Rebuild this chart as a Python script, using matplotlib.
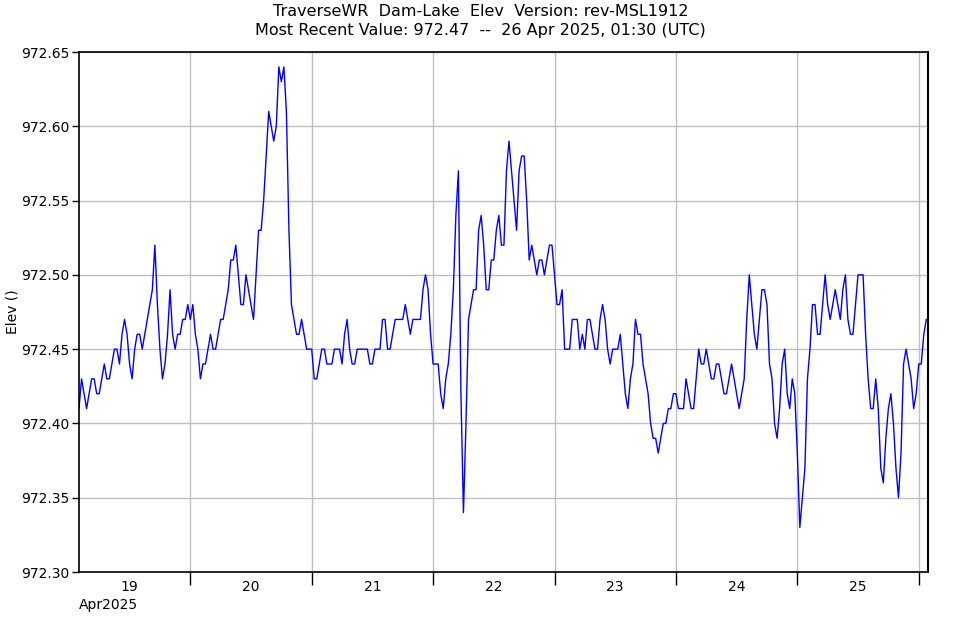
import matplotlib
matplotlib.use("Agg")
import matplotlib.pyplot as plt
import matplotlib.dates as mdates
import matplotlib.ticker as mticker
import numpy as np
import pandas as pd

# ---- data (half-hourly elevation, offsets added to 972.00) ----
start_time = "2025-04-19 02:00"
step = "30min"
apr19 = [0.41, 0.43, 0.42, 0.41, 0.42, 0.43, 0.43, 0.42, 0.42, 0.43, 0.44, 0.43,
         0.43, 0.44, 0.45, 0.45, 0.44, 0.46, 0.47, 0.46, 0.44, 0.43, 0.45, 0.46,
         0.46, 0.45, 0.46, 0.47, 0.48, 0.49, 0.52, 0.48, 0.45, 0.43, 0.44, 0.46,
         0.49, 0.46, 0.45, 0.46, 0.46, 0.47, 0.47, 0.48]
apr20 = [0.47, 0.48, 0.46, 0.45, 0.43, 0.44, 0.44, 0.45, 0.46, 0.45, 0.45, 0.46,
         0.47, 0.47, 0.48, 0.49, 0.51, 0.51, 0.52, 0.50, 0.48, 0.48, 0.50, 0.49,
         0.48, 0.47, 0.50, 0.53, 0.53, 0.55, 0.58, 0.61, 0.60, 0.59, 0.60, 0.64,
         0.63, 0.64, 0.61, 0.53, 0.48, 0.47, 0.46, 0.46, 0.47, 0.46, 0.45, 0.45]
apr21 = [0.45, 0.43, 0.43, 0.44, 0.45, 0.45, 0.44, 0.44, 0.44, 0.45, 0.45, 0.45,
         0.44, 0.46, 0.47, 0.45, 0.44, 0.44, 0.45, 0.45, 0.45, 0.45, 0.45, 0.44,
         0.44, 0.45, 0.45, 0.45, 0.47, 0.47, 0.45, 0.45, 0.46, 0.47, 0.47, 0.47,
         0.47, 0.48, 0.47, 0.46, 0.47, 0.47, 0.47, 0.47, 0.49, 0.50, 0.49, 0.46]
apr22 = [0.44, 0.44, 0.44, 0.42, 0.41, 0.43, 0.44, 0.46, 0.49, 0.54, 0.57, 0.42,
         0.34, 0.40, 0.47, 0.48, 0.49, 0.49, 0.53, 0.54, 0.52, 0.49, 0.49, 0.51,
         0.51, 0.53, 0.54, 0.52, 0.52, 0.57, 0.59, 0.57, 0.55, 0.53, 0.57, 0.58,
         0.58, 0.55, 0.51, 0.52, 0.51, 0.50, 0.51, 0.51, 0.50, 0.51, 0.52, 0.52]
apr23 = [0.50, 0.48, 0.48, 0.49, 0.45, 0.45, 0.45, 0.47, 0.47, 0.47, 0.45, 0.46,
         0.45, 0.47, 0.47, 0.46, 0.45, 0.45, 0.47, 0.48, 0.47, 0.45, 0.44, 0.45,
         0.45, 0.45, 0.46, 0.44, 0.42, 0.41, 0.43, 0.44, 0.47, 0.46, 0.46, 0.44,
         0.43, 0.42, 0.40, 0.39, 0.39, 0.38, 0.39, 0.40, 0.40, 0.41, 0.41, 0.42]
apr24 = [0.42, 0.41, 0.41, 0.41, 0.43, 0.42, 0.41, 0.41, 0.43, 0.45, 0.44, 0.44,
         0.45, 0.44, 0.43, 0.43, 0.44, 0.44, 0.43, 0.42, 0.42, 0.43, 0.44, 0.43,
         0.42, 0.41, 0.42, 0.43, 0.47, 0.50, 0.48, 0.46, 0.45, 0.47, 0.49, 0.49,
         0.48, 0.44, 0.43, 0.40, 0.39, 0.41, 0.44, 0.45, 0.42, 0.41, 0.43, 0.42]
apr25 = [0.38, 0.33, 0.35, 0.37, 0.43, 0.45, 0.48, 0.48, 0.46, 0.46, 0.48, 0.50,
         0.48, 0.47, 0.48, 0.49, 0.48, 0.47, 0.49, 0.50, 0.47, 0.46, 0.46, 0.48,
         0.50, 0.50, 0.50, 0.46, 0.43, 0.41, 0.41, 0.43, 0.41, 0.37, 0.36, 0.39,
         0.41, 0.42, 0.40, 0.37, 0.35, 0.38, 0.44, 0.45, 0.44, 0.43, 0.41, 0.42,
         0.44, 0.44, 0.46, 0.47]
base = 972.0

elev = base + np.array(apr19 + apr20 + apr21 + apr22 + apr23 + apr24 + apr25)
times = pd.date_range(start_time, periods=len(elev), freq=step)

yticks = [972.30, 972.35, 972.40, 972.45, 972.50, 972.55, 972.60, 972.65]
title1 = "TraverseWR  Dam-Lake  Elev  Version: rev-MSL1912"
title2 = "Most Recent Value: 972.47  --  26 Apr 2025, 01:30 (UTC)"

# ---- figure ----
W, H = 961, 620
fig = plt.figure(figsize=(W / 100, H / 100), dpi=100)
ax = fig.add_axes([79 / W, 1 - 572 / H, (928 - 79) / W, (572 - 52) / H])

ax.plot(times, elev, color="#0000ff", linewidth=1.0)

ax.set_xlim(pd.Timestamp("2025-04-19 02:00"), pd.Timestamp("2025-04-26 01:50"))
ax.set_ylim(972.30, 972.65)
ax.set_yticks(yticks)
ax.yaxis.set_major_formatter(mticker.FormatStrFormatter("%.2f"))

ax.xaxis.set_major_locator(mdates.DayLocator())
ax.xaxis.set_major_formatter(mticker.NullFormatter())
ax.xaxis.set_minor_locator(mdates.HourLocator(byhour=[12]))
ax.xaxis.set_minor_formatter(mdates.DateFormatter("%d"))

ax.tick_params(axis="x", which="major", direction="out", length=9, width=1, color="black")
ax.tick_params(axis="x", which="minor", length=0, labelsize=10, pad=5.5)
ax.tick_params(axis="y", which="major", direction="out", length=5, width=1, labelsize=10, pad=2)

ax.grid(True, which="major", color="#c0c0c0", linewidth=1.0)
ax.set_axisbelow(True)

for s in ["left", "bottom", "top"]:
    ax.spines[s].set_color("black")
    ax.spines[s].set_linewidth(1.2)
ax.spines["right"].set_linestyle((0, (2.5, 1.0)))
ax.spines["right"].set_linewidth(1.5)
ax.spines["right"].set_color("black")

ax.set_ylabel("Elev ()", fontsize=10, labelpad=1)
ax.text(0.0, -0.05, "Apr2025", transform=ax.transAxes, ha="left", va="top", fontsize=10)

fig.text(0.5, 1 - 12 / H, title1, ha="center", va="center", fontsize=11.5)
fig.text(0.5, 1 - 31 / H, title2, ha="center", va="center", fontsize=11.5)

fig.savefig("out.png", dpi=100)
